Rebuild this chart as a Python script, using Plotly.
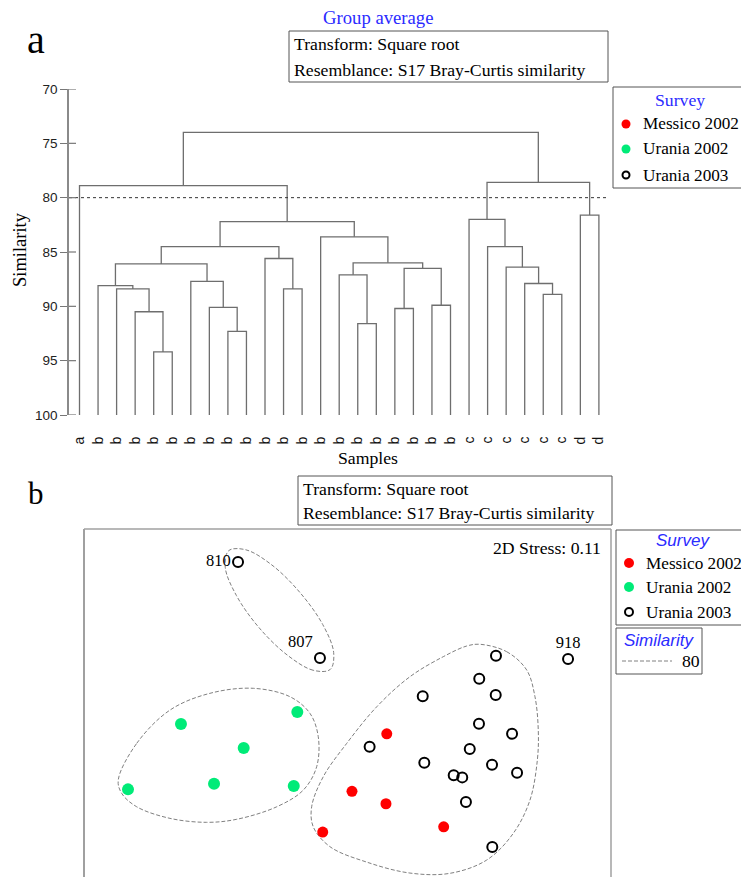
import plotly.graph_objects as go

W, H = 741, 877

# ---------------- Dendrogram data ----------------
leaf_labels = ["a"] + ["b"] * 20 + ["c"] * 6 + ["d"] * 2
leaf_survey = (["Urania 2003"] * 13
               + ["Messico 2002", "Urania 2003", "Messico 2002", "Messico 2002",
                  "Messico 2002", "Urania 2003", "Messico 2002", "Urania 2003"]
               + ["Urania 2002"] * 6 + ["Urania 2003"] * 2)
# merges: nodes 0..28 are leaves, node 29+k is merge k
merge_left = [4, 3, 2, 1, 8, 7, 6, 32, 11, 10, 36, 15, 14, 17, 19, 42, 41, 13, 39, 0,
              25, 24, 23, 22, 21, 27, 53, 48]
merge_right = [5, 29, 30, 31, 9, 33, 34, 35, 12, 37, 38, 16, 40, 18, 20, 43, 44, 45, 46, 47,
               26, 49, 50, 51, 52, 28, 54, 55]
merge_sim = [94.2, 90.5, 88.4, 88.1, 92.3, 90.1, 87.7, 86.1, 88.4, 85.6, 84.5, 91.6, 87.1,
             90.2, 89.9, 86.5, 86.0, 83.6, 82.2, 78.9, 88.9, 87.9, 86.4, 84.5, 82.0, 81.6,
             78.6, 74.0]
sim_ticks = [70, 75, 80, 85, 90, 95, 100]
threshold = 80

# ---------------- nMDS data ----------------
survey_names = ["Messico 2002", "Urania 2002", "Urania 2003"]
mds_messico_x = [0.298, 0.034, 0.292, -0.188, 0.730]
mds_messico_y = [-0.254, -0.691, -0.785, -1.000, -0.960]
mds_u02_x = [-0.381, -1.264, -0.788, -1.013, -0.408, -1.666]
mds_u02_y = [-0.089, -0.180, -0.362, -0.633, -0.651, -0.676]
mds_u03_x = [-0.831, -0.209, 1.674, 1.127, 1.000, 0.571, 1.125, 0.998, 1.249, 0.168, 0.928,
             0.583, 1.097, 0.806, 0.871, 1.287, 0.899, 1.099]
mds_u03_y = [1.050, 0.321, 0.313, 0.338, 0.164, 0.030, 0.040, -0.178, -0.254, -0.352, -0.370,
             -0.474, -0.489, -0.569, -0.585, -0.550, -0.772, -1.114]
mds_u03_labels = ["810", "807", "918"] + [""] * 15

# similarity 80 contours
cont1_x = [-0.131, -0.261, -0.458, -0.672, -0.843, -0.928, -0.901, -0.771, -0.573, -0.361, -0.188, -0.105]
cont1_y = [0.234, 0.228, 0.344, 0.552, 0.795, 1.009, 1.136, 1.142, 1.026, 0.818, 0.575, 0.362]
cont2_x = [-1.740, -1.600, -1.347, -1.044, -0.715, -0.436, -0.285, -0.222, -0.234, -0.335,
           -0.537, -0.841, -1.069, -1.347, -1.600, -1.714]
cont2_y = [-0.605, -0.327, -0.074, 0.053, 0.091, 0.027, -0.099, -0.276, -0.504, -0.681,
           -0.808, -0.903, -0.926, -0.896, -0.808, -0.706]
cont3_x = [1.006, 1.208, 1.360, 1.423, 1.448, 1.441, 1.385, 1.258, 1.057, 0.778, 0.474, 0.146,
           -0.133, -0.260, -0.272, -0.184, -0.006, 0.222, 0.474, 0.727, 0.905]
cont3_y = [0.425, 0.369, 0.230, 0.027, -0.226, -0.453, -0.757, -1.010, -1.212, -1.313, -1.311,
           -1.228, -1.111, -0.960, -0.808, -0.580, -0.327, -0.049, 0.179, 0.331, 0.412]
stress = 0.11
contour_level = 80

# ---------------- styling ----------------
SERIF = "Liberation Serif"
SANS = "Liberation Sans"
BLUE = "#2b2bff"
RED = "#ff0000"
GREEN = "#00eb78"
LINE_GRAY = "#6e6e6e"
BOX = "#555555"
TXT = 17.7
LEG = 17.2
survey_style = {
    "Messico 2002": dict(symbol="circle", color=RED),
    "Urania 2002": dict(symbol="circle", color=GREEN),
    "Urania 2003": dict(symbol="circle-open", color="black"),
}


def px_x(p):
    return p / W


def px_y(p):
    return 1 - p / H


fig = go.Figure()

# ---- dendrogram lines ----
n_leaves = len(leaf_labels)
node_x = list(range(n_leaves))
node_h = [100.0] * n_leaves
lx, ly = [], []
for l, r, s in zip(merge_left, merge_right, merge_sim):
    xl, xr = node_x[l], node_x[r]
    lx += [xl, xl, xr, xr, None]
    ly += [node_h[l], s, s, node_h[r], None]
    node_x.append((xl + xr) / 2)
    node_h.append(s)

fig.add_trace(go.Scatter(x=lx, y=ly, mode="lines", line=dict(color=LINE_GRAY, width=1.3),
                         showlegend=False, hoverinfo="skip", xaxis="x", yaxis="y"))

MARKER_OFFSET = 0.92  # leaf symbols drawn just beyond similarity 100
for name in survey_names:
    idx = [i for i, s in enumerate(leaf_survey) if s == name]
    st = survey_style[name]
    fig.add_trace(go.Scatter(
        x=idx, y=[100 + MARKER_OFFSET] * len(idx), mode="markers", name=name, showlegend=False,
        marker=dict(symbol=st["symbol"], color=st["color"], size=8.5 if st["symbol"] == "circle" else 7.5,
                    line=dict(width=1.9, color=st["color"])),
        cliponaxis=False, xaxis="x", yaxis="y"))

# ---- nMDS ----
for cx, cy in [(cont1_x, cont1_y), (cont2_x, cont2_y), (cont3_x, cont3_y)]:
    fig.add_trace(go.Scatter(
        x=cx + cx[:1], y=cy + cy[:1], mode="lines", name=str(contour_level),
        line=dict(color="#808080", width=1, dash="4px,2px", shape="spline", smoothing=1.0),
        showlegend=False, hoverinfo="skip", xaxis="x2", yaxis="y2", cliponaxis=False))

fig.add_trace(go.Scatter(x=mds_messico_x, y=mds_messico_y, mode="markers", name="Messico 2002",
                         marker=dict(symbol="circle", color=RED, size=11), showlegend=False,
                         xaxis="x2", yaxis="y2"))
fig.add_trace(go.Scatter(x=mds_u02_x, y=mds_u02_y, mode="markers", name="Urania 2002",
                         marker=dict(symbol="circle", color=GREEN, size=12), showlegend=False,
                         xaxis="x2", yaxis="y2"))
fig.add_trace(go.Scatter(x=mds_u03_x, y=mds_u03_y, mode="markers+text", name="Urania 2003",
                         text=mds_u03_labels,
                         textposition=["middle left", "top left", "top center"] + ["top center"] * 15,
                         textfont=dict(family=SERIF, size=16.5, color="black"),
                         marker=dict(symbol="circle-open", color="black", size=10,
                                     line=dict(width=2, color="black")),
                         showlegend=False, xaxis="x2", yaxis="y2", cliponaxis=False))

# ---- layout ----
x_lo = -(79.5 - 69) / 18.55
x_hi = x_lo + (612 - 69) / 18.55

shapes = []
ann = []


def rect(x0, x1, y0, y1, color=BOX, width=1):
    shapes.append(dict(type="rect", xref="paper", yref="paper", x0=px_x(x0), x1=px_x(x1),
                       y0=px_y(y1), y1=px_y(y0), line=dict(color=color, width=width),
                       fillcolor="white", layer="above"))


def text(t, x, y, size=TXT, color="black", family=SERIF, xanchor="left", angle=0, italic=False):
    ann.append(dict(text=t, x=px_x(x), y=px_y(y), xref="paper", yref="paper", showarrow=False,
                    xanchor=xanchor, yanchor="middle", textangle=angle,
                    font=dict(size=size, color=color, family=family,
                              style="italic" if italic else "normal")))


def dot(cx, cy, name, r=4.5):
    st = survey_style[name]
    if st["symbol"] == "circle":
        shapes.append(dict(type="circle", xref="paper", yref="paper", x0=px_x(cx - r), x1=px_x(cx + r),
                           y0=px_y(cy + r), y1=px_y(cy - r), fillcolor=st["color"],
                           line=dict(width=0), layer="above"))
    else:
        shapes.append(dict(type="circle", xref="paper", yref="paper", x0=px_x(cx - r + 1), x1=px_x(cx + r - 1),
                           y0=px_y(cy + r - 1), y1=px_y(cy - r + 1), fillcolor="white",
                           line=dict(width=2, color="black"), layer="above"))


# threshold line
shapes.append(dict(type="line", xref="x domain", yref="y", x0=0, x1=(608 - 69) / 543,
                   y0=threshold, y1=threshold, line=dict(color="#333", width=1, dash="dot")))
# inner half of the y ticks (ticks cross the axis line)
for t in sim_ticks:
    shapes.append(dict(type="line", xref="x domain", yref="y", x0=0, x1=7 / 543, y0=t, y1=t,
                       line=dict(color="#777", width=1.2)))
# info boxes
rect(289, 608, 31, 82)
rect(298, 612, 476, 525)
# nMDS frame (left, top, right)
frame_col = "#a0a0a0"
shapes.append(dict(type="line", xref="paper", yref="paper", x0=px_x(84), x1=px_x(84),
                   y0=0, y1=px_y(529), line=dict(color=frame_col, width=2)))
shapes.append(dict(type="line", xref="paper", yref="paper", x0=px_x(84), x1=px_x(611),
                   y0=px_y(529), y1=px_y(529), line=dict(color=frame_col, width=1.5)))
shapes.append(dict(type="line", xref="paper", yref="paper", x0=px_x(611), x1=px_x(611),
                   y0=0, y1=px_y(529), line=dict(color=frame_col, width=1.5)))

# legends (drawn as boxes)
rect(613, 760, 87, 188)
text("Survey", 680, 100, color=BLUE, xanchor="center")
for k, name in enumerate(survey_names):
    y = [124, 149, 175][k]
    dot(626, y, name)
    text(name, 641, y, size=LEG)

rect(616, 760, 530, 625)
text("Survey", 683, 540, size=17, color=BLUE, family=SANS, italic=True, xanchor="center")
for k, name in enumerate(survey_names):
    y = [563, 587, 612][k]
    dot(629, y, name, r=5)
    text(name, 644, y, size=LEG)

rect(616, 702, 628, 674)
text("Similarity", 659, 640, size=17, color=BLUE, family=SANS, italic=True, xanchor="center")
shapes.append(dict(type="line", xref="paper", yref="paper", x0=px_x(622), x1=px_x(672),
                   y0=px_y(661), y1=px_y(661), line=dict(color="#808080", width=1, dash="4px,2px")))
text(str(contour_level), 680, 661)

text("a", 36, 40, size=40, xanchor="center")
text("b", 36, 493, size=31, xanchor="center")
text("Group average", 378, 18, size=18.7, color=BLUE, xanchor="center")
text("Transform: Square root", 292, 44)
text("Resemblance: S17 Bray-Curtis similarity", 292, 70)
text("Transform: Square root", 301, 489)
text("Resemblance: S17 Bray-Curtis similarity", 301, 513)
text("Similarity", 20, 250, size=18.5, xanchor="center", angle=-90)
text("Samples", 368, 458, size=17.7, xanchor="center")
text(f"2D Stress: {stress}", 603, 548, xanchor="right")

fig.update_layout(
    width=W, height=H, margin=dict(l=0, r=0, t=0, b=0, autoexpand=False),
    paper_bgcolor="white", plot_bgcolor="white", showlegend=False,
    xaxis=dict(domain=[px_x(69), px_x(612)], range=[x_lo, x_hi], showgrid=False, zeroline=False,
               showline=False, tickmode="array", tickvals=list(range(n_leaves)), ticktext=leaf_labels,
               tickangle=-90, ticks="outside", ticklen=15, tickcolor="rgba(0,0,0,0)",
               tickfont=dict(family=SANS, size=14, color="#111"), anchor="y"),
    yaxis=dict(domain=[px_y(415), px_y(89)], range=[100, 70], showgrid=False, zeroline=False,
               showline=True, linecolor="#8a8a8a", linewidth=1.5, tickmode="array",
               tickvals=sim_ticks, ticks="outside", ticklen=7, tickcolor="#777", tickwidth=1.2,
               tickfont=dict(family=SANS, size=13.5, color="#222"), anchor="x"),
    xaxis2=dict(domain=[px_x(84), px_x(611)], range=[-2.0, 2.0], visible=False, anchor="y2"),
    yaxis2=dict(domain=[0, px_y(529)], range=[-1.341, 1.3], visible=False, anchor="x2"),
    shapes=shapes, annotations=ann,
)

page_fix = (
    "var gd=document.getElementById('{plot_id}');"
    "var de=document.documentElement, b=document.body;"
    "de.style.margin='0';de.style.padding='0';de.style.overflow='hidden';"
    "de.style.width='741px';de.style.height='877px';"
    "b.style.margin='0';b.style.padding='0';b.style.overflow='hidden';"
    "b.style.width='741px';b.style.height='877px';"
    "gd.style.position='fixed';gd.style.left='0px';gd.style.top='0px';"
)
fig.write_html("out.html", post_script=page_fix, config={"displayModeBar": False})
